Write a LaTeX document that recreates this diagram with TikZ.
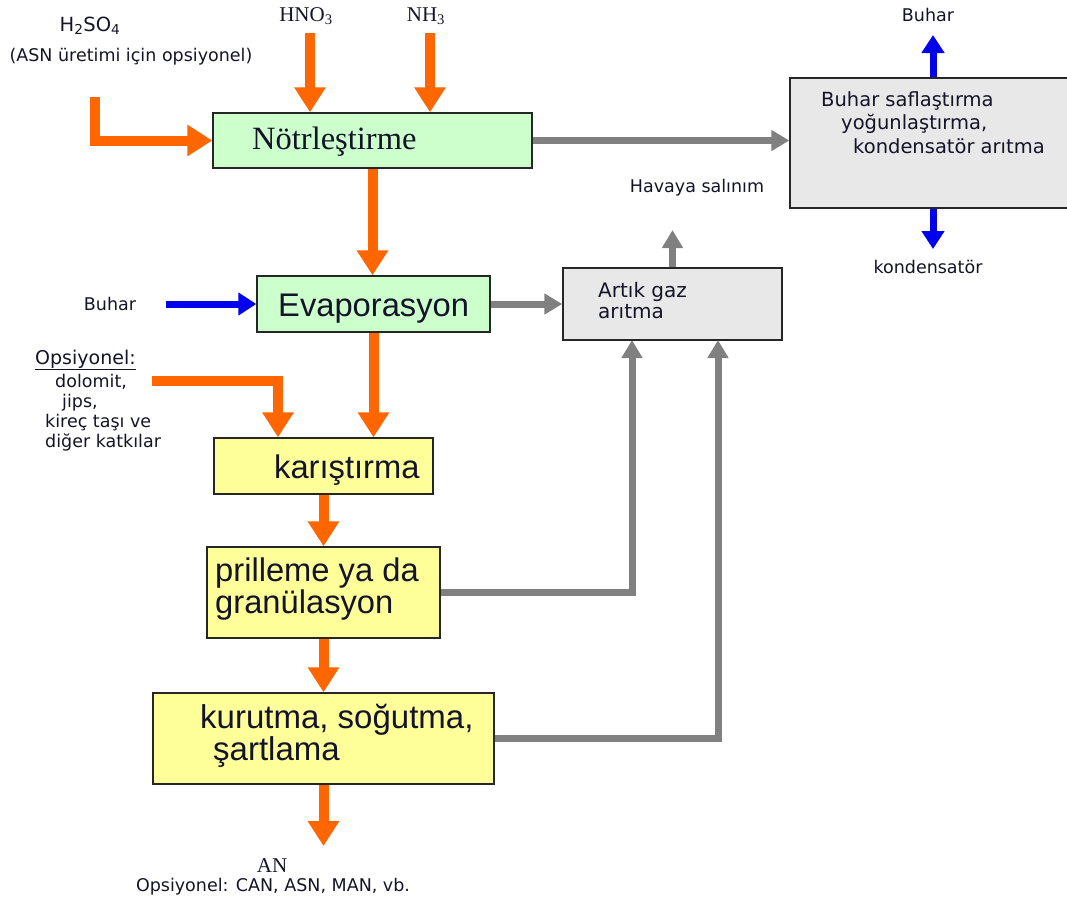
\documentclass[tikz,border=0pt]{standalone}
\usepackage{fontspec}
\setmainfont{Liberation Serif}
\newfontfamily\arialf{Liberation Sans}
\newfontfamily\dejaf{DejaVu Sans}
\usetikzlibrary{arrows.meta,calc}
\definecolor{orng}{HTML}{FF6600}
\definecolor{gry}{HTML}{808080}
\definecolor{blu}{HTML}{0000EE}
\definecolor{grn}{HTML}{CCFFCC}
\definecolor{ylw}{HTML}{FFFF99}
\definecolor{lgry}{HTML}{E8E8E8}
\definecolor{txt}{HTML}{141428}
\lineskiplimit=-100pt
\begin{document}
\begin{tikzpicture}[x=1pt,y=-1pt,
  procbox/.style={draw=black!85,line width=1.4pt,inner sep=0pt},
  boxtext/.style={inner sep=0pt,align=left,text=txt,anchor=base west},
  bigsans/.style={font=\arialf\fontsize{32.7}{31.5}\selectfont},
  smalllbl/.style={inner sep=0pt,text=txt,font=\dejaf\fontsize{17.5}{20}\selectfont},
  seriflbl/.style={inner sep=0pt,text=txt,font=\fontsize{21}{24}\selectfont},
  orangearrow/.style={draw=orng,line width=10pt,-{Triangle[width=30pt,length=25pt]}},
  grayarrow/.style={draw=gry,line width=7pt,-{Triangle[width=20pt,length=18pt]}},
  bluearrow/.style={draw=blu,line width=7pt,-{Triangle[width=22pt,length=18pt]}}]
\useasboundingbox (0,0) rectangle (1067,906);

% boxes
\node[procbox,fill=grn,minimum width=319pt,minimum height=55pt] (b-notr) at (372.5,140.5) {};
\node[procbox,fill=grn,minimum width=233pt,minimum height=56pt] (b-evap) at (373.5,304) {};
\node[procbox,fill=lgry,minimum width=286pt,minimum height=130pt] (b-buh) at (933,143) {};
\node[procbox,fill=lgry,minimum width=219pt,minimum height=72pt] (b-art) at (672.5,304) {};
\node[procbox,fill=ylw,minimum width=219pt,minimum height=56pt] (b-kar) at (323.5,466) {};
\node[procbox,fill=ylw,minimum width=233pt,minimum height=91pt] (b-pril) at (323.5,592.5) {};
\node[procbox,fill=ylw,minimum width=341pt,minimum height=91pt] (b-kur) at (323.5,738.5) {};

% box texts (multi-line texts are anchored at the baseline of their last line)
\node[boxtext,font=\fontsize{32.5}{36}\selectfont] (t-notr) at (252,149) {Nötrleştirme};
\node[boxtext,bigsans] (t-evap) at (278,316) {Evaporasyon};
\node[boxtext,font=\dejaf\fontsize{19.5}{23.5}\selectfont] (t-buh) at (821,153)
  {Buhar saflaştırma\\\hspace*{20pt}yoğunlaştırma,\\\hspace*{32pt}kondensatör arıtma};
\node[boxtext,font=\dejaf\fontsize{20}{21}\selectfont] (t-art) at (598,318) {Artık gaz\\arıtma};
\node[boxtext,bigsans] (t-kar) at (274,478) {karıştırma};
\node[boxtext,bigsans] (t-pril) at (215,613) {prilleme ya da\\granülasyon};
\node[boxtext,font=\arialf\fontsize{33}{32}\selectfont] (t-kur) at (200,760) {kurutma, soğutma,\\\hspace*{13pt}şartlama};

% labels
\node[seriflbl] (l-hno) at (306,16) {HNO\textsubscript{3}};
\node[seriflbl] (l-nh) at (426,16) {NH\textsubscript{3}};
\node[smalllbl,font=\dejaf\fontsize{19.5}{20}\selectfont] (l-h2) at (90,26) {H\textsubscript{2}SO\textsubscript{4}};
\node[smalllbl] (l-asn) at (131,57) {(ASN üretimi için opsiyonel)};
\node[smalllbl] (l-buhtop) at (928,15) {Buhar};
\node[smalllbl] (l-kond) at (928,267) {kondensatör};
\node[smalllbl] (l-hav) at (697,188) {Havaya salınım};
\node[smalllbl] (l-buhl) at (110,304) {Buhar};
\node[smalllbl,align=left,anchor=base west] (l-ops) at (35,447)
  {{\fontsize{19}{20}\selectfont\underline{Opsiyonel:}}\\[3pt]\hspace*{20pt}dolomit,\\\hspace*{27pt}jips,\\\hspace*{10pt}kireç taşı ve\\\hspace*{10pt}diğer katkılar};
\node[seriflbl] (l-an) at (272,866) {AN};
\node[smalllbl] (l-anops) at (273,887) {Opsiyonel: CAN, ASN, MAN, vb.};

% free ends
\coordinate (hno-s) at (310,33);
\coordinate (nh-s) at (430,33);
\coordinate (h2-s) at (95,97);
\coordinate (ops-s) at (152,381);
\coordinate (ops-c) at (278,381);
\coordinate (an-e) at (323.5,846);
\coordinate (hav-e) at (672.5,230);
\coordinate (buhu-e) at (933,35);
\coordinate (kond-e) at (933,249);
\coordinate (buhl-s) at (166,304);
\coordinate (art-in1) at (632,340);
\coordinate (art-in2) at (718,340);

% orange arrows
\draw[orangearrow] (hno-s) -- (hno-s |- b-notr.north);
\draw[orangearrow] (nh-s) -- (nh-s |- b-notr.north);
\draw[orangearrow] (h2-s) |- (b-notr.west);
\draw[orangearrow] (b-notr.south) -- (b-notr.south |- b-evap.north);
\draw[orangearrow] (b-evap.south) -- (b-evap.south |- b-kar.north);
\draw[orangearrow] (ops-s) -- (ops-c) -- (ops-c |- b-kar.north);
\draw[orangearrow] (b-kar.south) -- (b-pril.north);
\draw[orangearrow] (b-pril.south) -- (b-kur.north);
\draw[orangearrow] (b-kur.south) -- (an-e);

% gray arrows
\draw[grayarrow] (b-notr.east) -- (b-notr.east -| b-buh.west);
\draw[grayarrow] (b-evap.east) -- (b-evap.east -| b-art.west);
\draw[grayarrow] (b-art.north) -- (hav-e);
\draw[grayarrow] (b-pril.east) -| (art-in1);
\draw[grayarrow] (b-kur.east) -| (art-in2);

% blue arrows
\draw[bluearrow] (buhl-s) -- (b-evap.west);
\draw[bluearrow] (b-buh.north) -- (buhu-e);
\draw[bluearrow] (b-buh.south) -- (kond-e);
\end{tikzpicture}
\end{document}
